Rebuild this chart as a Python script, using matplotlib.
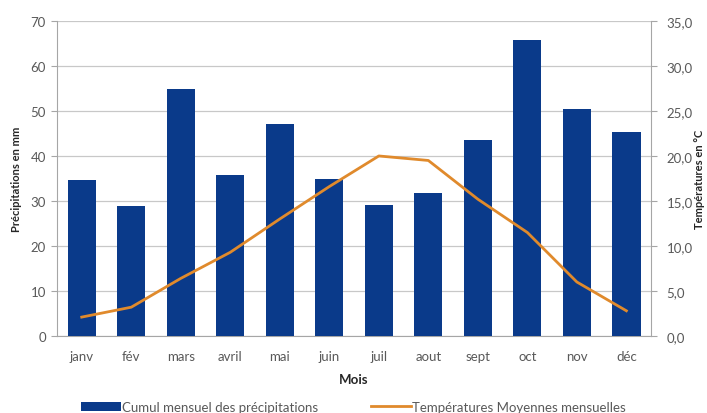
import matplotlib
matplotlib.use("Agg")
import matplotlib.pyplot as plt
from matplotlib.ticker import FuncFormatter, MultipleLocator

plt.rcParams['font.family'] = ['Lato', 'DejaVu Sans']

months = ["janv", "fév", "mars", "avril", "mai", "juin",
          "juil", "aout", "sept", "oct", "nov", "déc"]
precip_mm = [34.7, 28.9, 54.9, 35.8, 47.1, 34.9, 29.1, 31.8, 43.6, 65.8, 50.4, 45.3]
temp_c = [2.1, 3.2, 6.4, 9.3, 13.0, 16.6, 20.0, 19.5, 15.2, 11.5, 6.0, 2.8]

bar_color = "#0a3a8a"
line_color = "#e08a2c"
axis_gray = "#a6a6a6"
text_gray = "#595959"

fig = plt.figure(figsize=(7.07, 4.14), dpi=100)
ax = fig.add_axes([0.0806, 0.186, 0.8404, 0.761])
ax2 = ax.twinx()

x = list(range(len(months)))
ax.bar(x, precip_mm, width=0.57, color=bar_color, zorder=3,
       label="Cumul mensuel des précipitations")
ax2.plot(x, temp_c, color=line_color, lw=2.0, zorder=4,
         label="Températures Moyennes mensuelles")

ax.set_xlim(-0.5, 11.5)
ax.set_ylim(0, 70)
ax2.set_ylim(0, 35)
ax.yaxis.set_major_locator(MultipleLocator(10))
ax2.yaxis.set_major_locator(MultipleLocator(5))
ax2.yaxis.set_major_formatter(FuncFormatter(lambda v, p: f"{v:.1f}".replace(".", ",")))

ax.grid(axis="y", color="#c8c8c8", lw=0.9, zorder=0)
ax.set_axisbelow(True)

ax.set_xticks(x)
ax.set_xticklabels(months)

for a in (ax, ax2):
    for s in a.spines.values():
        s.set_visible(False)
ax.spines["left"].set_visible(True)
ax.spines["left"].set_color(axis_gray)
ax.spines["bottom"].set_visible(True)
ax.spines["bottom"].set_color(axis_gray)
ax2.spines["right"].set_visible(True)
ax2.spines["right"].set_color(axis_gray)

ax.tick_params(axis="y", colors=text_gray, labelsize=9.5, length=4, color=axis_gray, pad=4)
ax.tick_params(axis="x", colors=text_gray, labelsize=9.5, length=0, pad=10)
ax2.tick_params(axis="y", colors=text_gray, labelsize=9.5, length=4, color=axis_gray, pad=7)

ax.set_ylabel("Précipitations en mm", fontsize=8, fontweight="bold", color="#262626", labelpad=6)
ax2.set_ylabel("Températures en °C", fontsize=8, fontweight="bold", color="#262626", labelpad=1)
ax.set_xlabel("Mois", fontsize=9.5, fontweight="bold", color="#262626", labelpad=8)

h1, l1 = ax.get_legend_handles_labels()
h2, l2 = ax2.get_legend_handles_labels()
fig.legend(h1 + h2, l1 + l2, loc="center", bbox_to_anchor=(0.5, 0.015),
           ncol=2, frameon=False, fontsize=9.5, labelcolor=text_gray,
           handlelength=3.0, handletextpad=0.1, columnspacing=4.0)

fig.savefig("out.png", dpi=100)
